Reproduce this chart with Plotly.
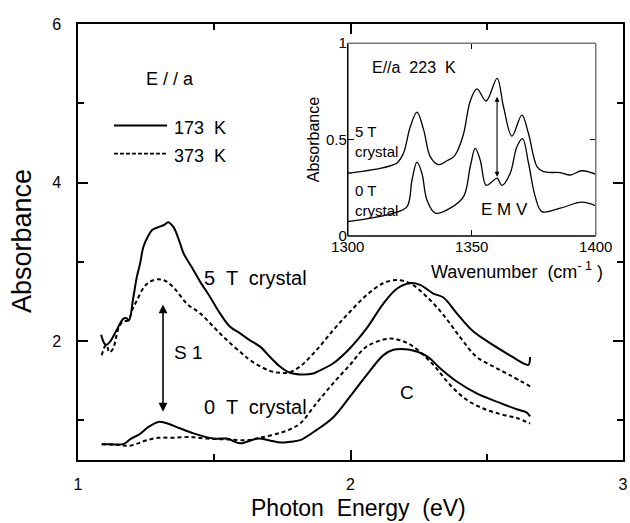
import plotly.graph_objects as go

# ---------------- main panel data (photon energy, eV) ----------------
x_5T_173 = [1.085, 1.095, 1.103, 1.117, 1.142, 1.166, 1.178, 1.187, 1.203, 1.216, 1.228, 1.240,
            1.258, 1.272, 1.289, 1.305, 1.318, 1.331, 1.350, 1.374, 1.387, 1.423, 1.448, 1.484,
            1.521, 1.558, 1.594, 1.631, 1.668, 1.705, 1.741, 1.778, 1.815, 1.862, 1.876, 1.937,
            1.998, 2.059, 2.120, 2.170, 2.218, 2.255, 2.304, 2.341, 2.390, 2.451, 2.524, 2.585,
            2.634, 2.653, 2.659]
y_5T_173 = [2.08, 1.98, 1.95, 1.99, 2.14, 2.28, 2.29, 2.26, 2.55, 2.81, 2.98, 3.19,
            3.33, 3.40, 3.43, 3.45, 3.47, 3.50, 3.44, 3.24, 3.11, 2.90, 2.75, 2.56,
            2.35, 2.18, 2.10, 2.01, 1.93, 1.80, 1.68, 1.60, 1.58, 1.59, 1.61, 1.72,
            1.91, 2.16, 2.47, 2.66, 2.73, 2.71, 2.60, 2.55, 2.35, 2.12, 1.95, 1.82,
            1.72, 1.70, 1.80]

x_5T_373 = [1.087, 1.098, 1.105, 1.115, 1.128, 1.140, 1.150, 1.166, 1.184, 1.200, 1.217, 1.242,
            1.264, 1.294, 1.312, 1.330, 1.360, 1.400, 1.448, 1.500, 1.547, 1.600, 1.631, 1.700,
            1.740, 1.778, 1.815, 1.876, 1.937, 1.998, 2.059, 2.120, 2.170, 2.218, 2.280, 2.341,
            2.402, 2.463, 2.524, 2.585, 2.659]
y_5T_373 = [1.82, 1.93, 1.95, 1.86, 1.90, 2.05, 2.18, 2.25, 2.26, 2.40, 2.52, 2.68,
            2.75, 2.78, 2.77, 2.74, 2.64, 2.47, 2.35, 2.17, 2.01, 1.85, 1.76, 1.63,
            1.60, 1.61, 1.68, 1.89, 2.14, 2.37, 2.58, 2.73, 2.77, 2.73, 2.56, 2.33,
            2.05, 1.80, 1.68, 1.57, 1.43]

x_0T_173 = [1.087, 1.120, 1.166, 1.195, 1.228, 1.260, 1.295, 1.320, 1.374, 1.420, 1.497, 1.546,
            1.594, 1.620, 1.660, 1.700, 1.745, 1.780, 1.815, 1.876, 1.937, 1.998, 2.059, 2.120,
            2.157, 2.218, 2.280, 2.328, 2.390, 2.463, 2.549, 2.610, 2.646, 2.659]
y_0T_173 = [0.70, 0.70, 0.70, 0.77, 0.83, 0.92, 0.98, 0.97, 0.90, 0.84, 0.77, 0.77,
            0.71, 0.73, 0.77, 0.75, 0.72, 0.73, 0.75, 0.88, 1.04, 1.30, 1.57, 1.82,
            1.89, 1.89, 1.81, 1.66, 1.49, 1.34, 1.22, 1.14, 1.10, 1.05]

x_0T_373 = [1.087, 1.150, 1.190, 1.220, 1.252, 1.295, 1.350, 1.411, 1.472, 1.546, 1.620, 1.668,
            1.740, 1.780, 1.815, 1.876, 1.937, 1.998, 2.059, 2.139, 2.182, 2.231, 2.304, 2.365,
            2.426, 2.487, 2.549, 2.610, 2.659]
y_0T_373 = [0.70, 0.69, 0.68, 0.71, 0.75, 0.78, 0.78, 0.79, 0.77, 0.76, 0.75, 0.78,
            0.84, 0.89, 0.96, 1.22, 1.47, 1.70, 1.93, 2.03, 2.01, 1.93, 1.70, 1.45,
            1.26, 1.15, 1.08, 1.03, 0.96]

# ---------------- inset data (wavenumber, cm-1) ----------------
wn_5T = [1300, 1305, 1313, 1318.5, 1320, 1322.5, 1325.2, 1327.9, 1330.6, 1333.3, 1336.6, 1340,
         1342.7, 1344, 1346.7, 1349.4, 1352.1, 1355.8, 1360.2, 1362.8, 1366.2, 1370.2, 1372.9,
         1376.3, 1379, 1385.7, 1389.7, 1394.4, 1400]
a_5T = [0.325, 0.333, 0.35, 0.37, 0.38, 0.43, 0.566, 0.642, 0.55, 0.41, 0.37, 0.39,
        0.41, 0.435, 0.53, 0.70, 0.763, 0.70, 0.817, 0.67, 0.518, 0.627, 0.53,
        0.36, 0.333, 0.328, 0.316, 0.338, 0.32]

wn_0T = [1300, 1305, 1318.5, 1323.9, 1325.9, 1327.9, 1329.9, 1331.9, 1335.3, 1341.3, 1346.7,
         1349.4, 1351.4, 1353.4, 1355.8, 1358.5, 1360.2, 1362.2, 1365.5, 1368.2, 1370.5, 1372.9,
         1375.6, 1378.3, 1385.7, 1394.4, 1400]
a_0T = [0.074, 0.083, 0.118, 0.152, 0.29, 0.383, 0.325, 0.187, 0.118, 0.144, 0.204,
        0.36, 0.454, 0.394, 0.262, 0.285, 0.30, 0.262, 0.325, 0.463, 0.505, 0.377,
        0.204, 0.126, 0.144, 0.175, 0.156]

FONT = "Liberation Sans, Arial, sans-serif"
BLACK = "#000000"
DASH = "4px,3px"

W, H = 630, 523
ML, MR, MT, MB = 78, 7, 24, 63
PW, PH = W - ML - MR, H - MT - MB


def px_to_paper(px, py):
    return (px - ML) / PW, (H - MB - py) / PH


fig = go.Figure()

# main curves
fig.add_trace(go.Scatter(x=x_5T_173, y=y_5T_173, mode="lines", line=dict(color=BLACK, width=2),
                         line_shape="spline", showlegend=False))
fig.add_trace(go.Scatter(x=x_5T_373, y=y_5T_373, mode="lines", line=dict(color=BLACK, width=2, dash=DASH),
                         line_shape="spline", showlegend=False))
fig.add_trace(go.Scatter(x=x_0T_173, y=y_0T_173, mode="lines", line=dict(color=BLACK, width=2),
                         line_shape="spline", showlegend=False))
fig.add_trace(go.Scatter(x=x_0T_373, y=y_0T_373, mode="lines", line=dict(color=BLACK, width=2, dash=DASH),
                         line_shape="spline", showlegend=False))

# inset curves
fig.add_trace(go.Scatter(x=wn_5T, y=a_5T, mode="lines", line=dict(color=BLACK, width=1.3),
                         line_shape="spline", xaxis="x2", yaxis="y2", showlegend=False))
fig.add_trace(go.Scatter(x=wn_0T, y=a_0T, mode="lines", line=dict(color=BLACK, width=1.3),
                         line_shape="spline", xaxis="x2", yaxis="y2", showlegend=False))

main_axis_common = dict(showline=True, linecolor=BLACK, linewidth=1.5, mirror="allticks",
                        ticks="inside", ticklen=10, tickwidth=1.5, tickcolor=BLACK,
                        showgrid=False, zeroline=False, automargin=False,
                        tickfont=dict(family=FONT, size=16, color=BLACK))

fig.update_layout(
    width=W, height=H,
    margin=dict(l=ML, r=MR, t=MT, b=MB),
    paper_bgcolor="white", plot_bgcolor="white",
    font=dict(family=FONT, color=BLACK),
    xaxis=dict(range=[1, 3], tickvals=[1, 2, 3], ticklabelstandoff=9,
               minor=dict(tickvals=[1.5, 2.5], ticks="inside", ticklen=6, tickwidth=1.5, tickcolor=BLACK),
               **main_axis_common),
    yaxis=dict(range=[0.5, 6], tickvals=[2, 4, 6], ticklabelstandoff=12,
               minor=dict(tickvals=[1, 3, 5], ticks="inside", ticklen=6, tickwidth=1.5, tickcolor=BLACK),
               **main_axis_common),
    xaxis2=dict(domain=[0.495, 0.950], anchor="y2", range=[1300, 1400], tickvals=[1300, 1350, 1400],
                showline=False, mirror="ticks", ticks="inside", ticklen=6, tickwidth=1.2, tickcolor=BLACK,
                showgrid=False, zeroline=False, automargin=False,
                tickfont=dict(family=FONT, size=15, color=BLACK)),
    yaxis2=dict(domain=[0.514, 0.956], anchor="x2", range=[0, 1], tickvals=[0, 0.5, 1],
                ticktext=["0", "0.5", "1"],
                showline=False, mirror="ticks", ticks="inside", ticklen=6, tickwidth=1.2, tickcolor=BLACK,
                showgrid=False, zeroline=False, automargin=False,
                tickfont=dict(family=FONT, size=15, color=BLACK),
                title=dict(text="Absorbance", font=dict(family=FONT, size=16, color=BLACK), standoff=2)),
)

# inset frame: left/bottom black, top/right grey
fig.add_shape(type="line", xref="x2 domain", yref="y2 domain", x0=0, x1=0, y0=0, y1=1,
              line=dict(color=BLACK, width=1.5))
fig.add_shape(type="line", xref="x2 domain", yref="y2 domain", x0=0, x1=1, y0=0, y1=0,
              line=dict(color=BLACK, width=1.5))
fig.add_shape(type="line", xref="x2 domain", yref="y2 domain", x0=0, x1=1, y0=1, y1=1,
              line=dict(color="#777777", width=1.5))
fig.add_shape(type="line", xref="x2 domain", yref="y2 domain", x0=1, x1=1, y0=0, y1=1,
              line=dict(color="#777777", width=1.5))

# legend samples (main panel)
fig.add_shape(type="line", xref="x", yref="y", x0=1.132, x1=1.327, y0=4.72, y1=4.72,
              line=dict(color=BLACK, width=2))
fig.add_shape(type="line", xref="x", yref="y", x0=1.132, x1=1.327, y0=4.365, y1=4.365,
              line=dict(color=BLACK, width=1.8, dash="4px,2px"))


def txt(x, y, s, size, xref="x", yref="y", xanchor="center", align="center", angle=0):
    fig.add_annotation(x=x, y=y, xref=xref, yref=yref, text=s, showarrow=False,
                       xanchor=xanchor, yanchor="middle", align=align, textangle=angle,
                       font=dict(family=FONT, size=size, color=BLACK))


# axis titles of the main panel
tx, ty = px_to_paper(358, 508)
txt(tx, ty, "Photon  Energy  (eV)", 23, xref="paper", yref="paper")
tx, ty = px_to_paper(22, 241)
txt(tx, ty, "Absorbance", 27, xref="paper", yref="paper", angle=-90)

# legend + labels
txt(1.345, 4.69, "173  K", 18, xanchor="left")
txt(1.345, 4.34, "373  K", 18, xanchor="left")
txt(1.338, 5.31, "E / / a", 18)
txt(1.65, 2.79, "5  T  crystal", 20)
txt(1.65, 1.17, "0  T  crystal", 20)
txt(1.404, 1.85, "S 1", 19)
txt(2.207, 1.35, "C", 19)

# main double arrow (S1)
fig.add_annotation(x=1.312, y=1.11, ax=1.312, ay=2.48, xref="x", yref="y", axref="x", ayref="y",
                   text="", showarrow=True, arrowhead=2, startarrowhead=2, arrowside="end+start",
                   arrowsize=1.1, startarrowsize=1.1, arrowwidth=1.6, arrowcolor=BLACK)

# inset texts
txt(1326.8, 0.876, "E//a  223  K", 16, xref="x2", yref="y2")
txt(1302.0, 0.488, "5 T<br>crystal", 15, xref="x2", yref="y2", xanchor="left", align="left")
txt(1302.0, 0.186, "0 T<br>crystal", 15, xref="x2", yref="y2", xanchor="left", align="left")
txt(1363.1, 0.135, "E M V", 17, xref="x2", yref="y2")
fig.add_annotation(x=1360.2, y=0.307, ax=1360.2, ay=0.73, xref="x2", yref="y2", axref="x2", ayref="y2",
                   text="", showarrow=True, arrowhead=2, startarrowhead=2, arrowside="end+start",
                   arrowsize=0.9, startarrowsize=0.9, arrowwidth=1.1, arrowcolor=BLACK)

# inset x-axis title (offset to the right as in the original)
tx, ty = px_to_paper(517, 270)
txt(tx, ty, "Wavenumber  (cm<sup>- 1</sup> )", 18, xref="paper", yref="paper")

fig.write_html("out.html", config={"displayModeBar": False},
               post_script="document.body.style.margin='0';")
